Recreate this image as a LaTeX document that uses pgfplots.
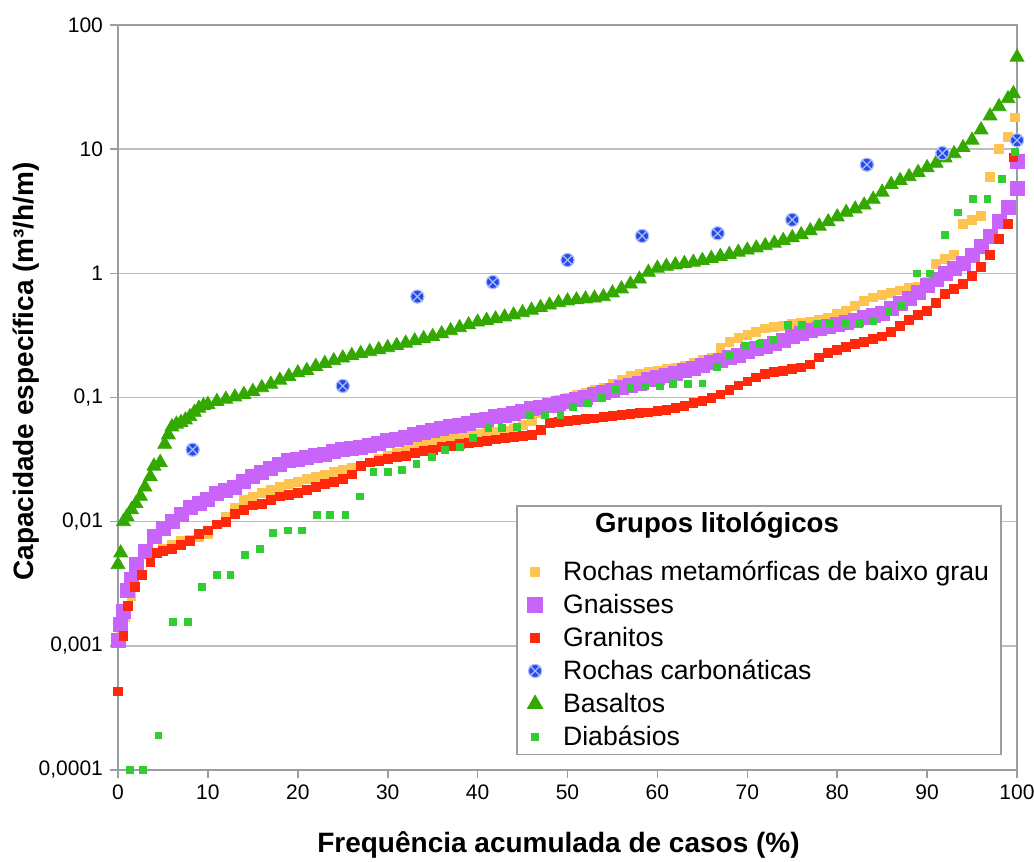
\documentclass[border=0pt]{standalone}
\usepackage{pgfplots}
\pgfplotsset{compat=1.18}
\usepackage{fontspec}
\setmainfont{Liberation Sans}

\definecolor{cmeta}{RGB}{255,196,80}
\definecolor{cgnai}{RGB}{200,100,250}
\definecolor{cgran}{RGB}{255,40,10}
\definecolor{ccarb}{RGB}{40,75,230}
\definecolor{ccarbx}{RGB}{170,190,255}
\definecolor{cbas}{RGB}{50,168,0}
\definecolor{cdia}{RGB}{50,205,50}
\definecolor{axgray}{RGB}{150,160,160}
\definecolor{gridgray}{RGB}{190,190,190}

\begin{document}
\begin{tikzpicture}
\begin{axis}[
    name=ax,
    width=449.5pt, height=372.5pt, scale only axis,
    xmin=0, xmax=100,
    ymode=log, ymin=1e-4, ymax=100,
    xtick={0,10,...,100},
    ytick={1e-4,1e-3,1e-2,1e-1,1,10,100},
    yticklabels={{0,0001},{0,001},{0,01},{0,1},1,10,100},
    yminorticks=false,
    xtick pos=bottom, ytick pos=left,
    tick align=outside, major tick length=4pt,
    ymajorgrids,
    grid style={draw=gridgray, line width=0.8pt},
    axis line style={draw=axgray, line width=0.8pt},
    tick style={draw=axgray, line width=0.8pt},
    /pgf/number format/assume math mode=true,
    tick label style={font=\fontsize{10.5}{12}\selectfont},
    xlabel={Frequência acumulada de casos (\%)},
    ylabel={Capacidade específica (m³/h/m)},
    label style={font=\fontsize{14}{16}\selectfont\bfseries},
    xlabel style={at={(axis description cs:0.49,-0.101)}, anchor=center},
    ylabel style={at={(axis description cs:-0.102,0.535)}, anchor=center},
    clip=false,
    legend cell align=left,
    legend image post style={xshift=-3.5pt},
    legend style={at={(rel axis cs:0.983,0.02)}, anchor=south east,
        draw=axgray, line width=0.8pt, fill=white,
        font=\fontsize{13.3}{16}\selectfont,
        row sep=1.3pt, inner xsep=4pt, inner ysep=1pt,
        /tikz/every odd column/.append style={column sep=8.5pt}},
]

\addlegendimage{empty legend}
\addlegendentry{\hspace*{1.2em}\fontsize{13.8}{16}\selectfont\textbf{Grupos litológicos}}
\addlegendimage{empty legend}
\addlegendentry{\rule{0pt}{0.5pt}}

% Rochas metamorficas de baixo grau
\addplot[only marks, mark=square*, mark size=2.2pt, color=cmeta] table {
x y
0.3 0.0013
0.8 0.0017
1.5 0.0025
5 0.0060
6 0.0065
7 0.0070
8 0.0072
9 0.0075
10 0.0080
11 0.0095
12 0.011
13 0.013
14 0.015
15 0.016
16 0.017
17 0.018
18 0.019
19 0.020
20 0.021
21 0.022
22 0.023
23 0.024
24 0.025
25 0.026
26 0.027
27 0.028
28 0.030
29 0.032
30 0.034
31 0.036
32 0.038
33 0.040
34 0.042
35 0.044
36 0.045
37 0.047
38 0.048
39 0.050
40 0.051
41 0.052
42 0.053
43 0.054
44 0.056
45 0.060
46 0.065
47 0.075
48 0.085
49 0.095
50 0.100
51 0.105
52 0.110
53 0.115
54 0.120
55 0.130
56 0.140
57 0.150
58 0.155
59 0.160
60 0.165
61 0.170
62 0.175
63 0.180
64 0.190
65 0.200
66 0.210
67 0.250
68 0.280
69 0.300
70 0.320
71 0.340
72 0.360
73 0.370
74 0.380
75 0.390
76 0.400
77 0.410
78 0.420
79 0.440
80 0.470
81 0.500
82 0.550
83 0.600
84 0.640
85 0.670
86 0.700
87 0.730
88 0.760
89 0.780
90 0.850
91 1.20
92 1.30
93 1.40
94 2.50
95 2.70
96 2.90
97 6.0
98 10.0
99 12.5
99.8 18.0
};
\addlegendentry{Rochas metamórficas de baixo grau}

% Gnaisses
\addplot[only marks, mark=square*, mark size=3.5pt, color=cgnai] table {
x y
0 0.0011
0.3 0.0015
0.6 0.0019
1 0.0028
1.5 0.0034
2 0.0045
3 0.0058
4 0.0076
5 0.0088
6 0.0100
7 0.0115
8 0.0130
9 0.0140
10 0.0150
11 0.0170
12 0.0180
13 0.0190
14 0.0210
15 0.0230
16 0.0250
17 0.0270
18 0.0290
19 0.0310
20 0.0320
21 0.0330
22 0.0340
23 0.0350
24 0.0370
25 0.0380
26 0.0390
27 0.0400
28 0.0410
29 0.0430
30 0.0450
31 0.0460
32 0.0480
33 0.0500
34 0.0520
35 0.0540
36 0.0560
37 0.0580
38 0.0600
39 0.0620
40 0.0650
41 0.0670
42 0.0700
43 0.0720
44 0.0750
45 0.0780
46 0.0810
47 0.0840
48 0.0870
49 0.0900
50 0.0930
51 0.0970
52 0.100
53 0.105
54 0.110
55 0.115
56 0.120
57 0.125
58 0.130
59 0.140
60 0.145
61 0.150
62 0.155
63 0.165
64 0.172
65 0.180
66 0.190
67 0.200
68 0.210
69 0.220
70 0.235
71 0.250
72 0.260
73 0.275
74 0.290
75 0.310
76 0.330
77 0.345
78 0.360
79 0.375
80 0.390
81 0.405
82 0.420
83 0.440
84 0.460
85 0.480
86 0.520
87 0.570
88 0.630
89 0.700
90 0.800
91 0.900
92 1.00
93 1.10
94 1.20
95 1.40
96 1.65
97 2.00
98 2.60
99 3.40
100 4.80
100 8.0
};
\addlegendentry{Gnaisses}

% Granitos
\addplot[only marks, mark=square*, mark size=2.2pt, color=cgran] table {
x y
0 0.00043
0.6 0.0012
1.1 0.0021
1.9 0.0030
2.7 0.0037
3.6 0.0047
4.3 0.0056
5 0.0058
6 0.0060
7 0.0065
8 0.0070
9 0.0080
10 0.0085
11 0.0095
12 0.0100
13 0.0115
14 0.0125
15 0.0135
16 0.0140
17 0.0150
18 0.0160
19 0.0165
20 0.0170
21 0.0180
22 0.0190
23 0.0200
24 0.0210
25 0.0220
26 0.0240
27 0.0280
28 0.0300
29 0.0310
30 0.0320
31 0.0330
32 0.0340
33 0.0360
34 0.0370
35 0.0380
36 0.0400
37 0.0410
38 0.0420
39 0.0430
40 0.0440
41 0.0450
42 0.0460
43 0.0470
44 0.0480
45 0.0490
46 0.0500
47 0.0550
48 0.0620
49 0.0640
50 0.0650
51 0.0660
52 0.0670
53 0.0680
54 0.0700
55 0.0710
56 0.0720
57 0.0740
58 0.0750
59 0.0760
60 0.0780
61 0.0800
62 0.0820
63 0.0860
64 0.0900
65 0.0940
66 0.100
67 0.106
68 0.115
69 0.125
70 0.135
71 0.145
72 0.155
73 0.160
74 0.165
75 0.170
76 0.175
77 0.185
78 0.210
79 0.230
80 0.240
81 0.255
82 0.270
83 0.280
84 0.295
85 0.310
86 0.340
87 0.380
88 0.420
89 0.460
90 0.500
91 0.580
92 0.680
93 0.750
94 0.820
95 0.950
96 1.12
97 1.40
98 1.90
99 2.50
99.6 8.6
};
\addlegendentry{Granitos}

\addlegendimage{only marks, mark=otimes*, mark size=3.3pt, draw=ccarbx, fill=ccarb, line width=0.6pt}
\addlegendentry{Rochas carbonáticas}

% Basaltos
\addplot[only marks, mark=triangle*, mark size=4pt, color=cbas] table {
x y
0 0.0045
0.3 0.0056
0.6 0.010
1 0.011
1.5 0.0125
2 0.014
2.5 0.016
3 0.019
3.6 0.023
4 0.028
4.7 0.030
5.2 0.042
5.6 0.050
6 0.058
6.5 0.061
7 0.063
7.5 0.066
8 0.070
8.5 0.076
9 0.082
9.5 0.086
10 0.088
11 0.093
12 0.097
13 0.101
14 0.106
15 0.112
16 0.120
17 0.128
18 0.138
19 0.148
20 0.158
21 0.165
22 0.178
23 0.188
24 0.198
25 0.208
26 0.218
27 0.226
28 0.234
29 0.243
30 0.252
31 0.262
32 0.274
33 0.286
34 0.298
35 0.310
36 0.326
37 0.345
38 0.365
39 0.385
40 0.405
41 0.418
42 0.430
43 0.445
44 0.462
45 0.482
46 0.505
47 0.530
48 0.555
49 0.580
50 0.600
51 0.612
52 0.622
53 0.632
54 0.648
55 0.695
56 0.750
57 0.820
58 0.900
59 1.02
60 1.10
61 1.14
62 1.17
63 1.20
64 1.23
65 1.27
66 1.32
67 1.37
68 1.42
69 1.48
70 1.54
71 1.60
72 1.67
73 1.75
74 1.84
75 1.94
76 2.05
77 2.20
78 2.40
79 2.60
80 2.85
81 3.10
82 3.30
83 3.55
84 3.95
85 4.50
86 5.20
87 5.60
88 6.00
89 6.50
90 7.10
91 7.70
92 8.50
93 9.20
94 10.3
95 11.8
96 14.3
97 18.5
98 22.0
99 25.5
99.6 28.0
100 55.0
};
\addlegendentry{Basaltos}

% Diabasios
\addplot[only marks, mark=square*, mark size=1.7pt, color=cdia] table {
x y
1.3 0.0001
2.8 0.0001
4.5 0.00019
6.1 0.00155
7.8 0.00155
9.3 0.0030
11.0 0.0037
12.5 0.0037
14.1 0.0054
15.8 0.0060
17.2 0.0081
18.9 0.0085
20.5 0.0085
22.1 0.0113
23.6 0.0113
25.3 0.0113
26.9 0.016
28.4 0.025
30.0 0.025
31.6 0.026
33.2 0.029
34.9 0.033
36.4 0.038
38.0 0.040
39.5 0.047
41.2 0.057
42.7 0.057
44.4 0.058
45.8 0.072
47.5 0.072
49.2 0.072
50.6 0.084
52.3 0.090
53.8 0.100
55.4 0.115
57.0 0.120
58.6 0.123
60.3 0.123
61.7 0.128
63.4 0.128
65.0 0.130
66.6 0.176
68.1 0.216
69.7 0.260
71.4 0.270
72.9 0.290
74.5 0.385
76.1 0.385
77.8 0.390
79.2 0.395
80.9 0.400
82.5 0.400
84.0 0.410
85.7 0.490
87.2 0.550
88.9 1.00
90.3 1.00
92.0 2.04
93.4 3.10
95.1 4.00
96.7 4.00
98.3 5.80
99.8 9.50
};
\addlegendentry{Diabásios}

% Rochas carbonaticas (drawn last, on top)
\addplot[only marks, mark=otimes*, mark size=3.3pt, draw=ccarbx, fill=ccarb, line width=0.6pt, forget plot] table {
x y
8.3 0.038
25.0 0.124
33.3 0.65
41.7 0.85
50.0 1.28
58.3 2.0
66.7 2.1
75.0 2.7
83.3 7.5
91.7 9.3
100 11.8
};

\end{axis}
\pgfresetboundingbox
\path ([shift={(-59pt,-46pt)}]ax.south west) rectangle ([shift={(8.5pt,12.5pt)}]ax.north east);
\end{tikzpicture}
\end{document}
